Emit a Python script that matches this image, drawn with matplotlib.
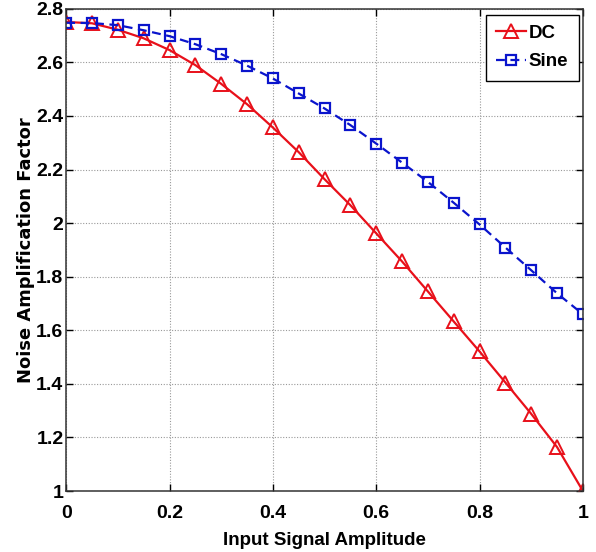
import matplotlib
matplotlib.use("Agg")
import matplotlib.pyplot as plt

amplitude = [0.0, 0.05, 0.10, 0.15, 0.20, 0.25, 0.30, 0.35, 0.40, 0.45, 0.50,
             0.55, 0.60, 0.65, 0.70, 0.75, 0.80, 0.85, 0.90, 0.95, 1.00]
dc_factor = [2.751, 2.746, 2.722, 2.690, 2.646, 2.590, 2.520, 2.444, 2.357, 2.265, 2.164,
             2.067, 1.962, 1.857, 1.745, 1.633, 1.521, 1.405, 1.288, 1.164, 1.000]
sine_factor = [2.748, 2.747, 2.739, 2.720, 2.698, 2.668, 2.631, 2.588, 2.540, 2.484, 2.428,
               2.366, 2.297, 2.226, 2.154, 2.076, 1.995, 1.909, 1.824, 1.738, 1.660]

xticks = [0, 0.2, 0.4, 0.6, 0.8, 1.0]
xtick_labels = ["0", "0.2", "0.4", "0.6", "0.8", "1"]
yticks = [1.0, 1.2, 1.4, 1.6, 1.8, 2.0, 2.2, 2.4, 2.6, 2.8]
ytick_labels = ["1", "1.2", "1.4", "1.6", "1.8", "2", "2.2", "2.4", "2.6", "2.8"]

plt.rcParams["font.family"] = ["Liberation Sans", "DejaVu Sans"]
plt.rcParams["font.weight"] = "bold"

fig = plt.figure(figsize=(5.96, 5.52), dpi=100)
ax = fig.add_axes([0.111, 0.1105, 0.867, 0.8735])

red = "#e8101a"
blue = "#0a14cc"
ax.plot(amplitude, dc_factor, color=red, lw=1.6, marker="^", ms=10,
        mfc="none", mec=red, mew=1.4, label="DC")
ax.plot(amplitude, sine_factor, color=blue, lw=1.6, ls=(0, (4, 2.5)), marker="s", ms=7,
        mfc="none", mec=blue, mew=1.6, label="Sine")

ax.set_xlim(0, 1)
ax.set_ylim(1, 2.8)
ax.set_xticks(xticks)
ax.set_xticklabels(xtick_labels)
ax.set_yticks(yticks)
ax.set_yticklabels(ytick_labels)
ax.tick_params(direction="in", top=True, right=True, length=5, width=1,
               labelsize=14)
ax.tick_params(axis="x", pad=10)
ax.tick_params(axis="y", pad=2)
ax.grid(True, color="#999999", ls=(0, (1, 1.5)), lw=0.8)
for s in ax.spines.values():
    s.set_linewidth(1.1)
    s.set_color("#333333")

ax.set_xlabel("Input Signal Amplitude", fontsize=13.5, fontweight="bold")
ax.xaxis.set_label_coords(0.5, -0.085)
ax.set_ylabel("Noise Amplification Factor", fontsize=12.9, fontweight="bold",
              family=["DejaVu Sans"])
ax.yaxis.set_label_coords(-0.06, 0.5)

leg = ax.legend(loc="upper right", bbox_to_anchor=(0.992, 0.988), fontsize=13.5,
                fancybox=False, framealpha=1, edgecolor="black", handlelength=1.6,
                handletextpad=0.15, borderpad=0.55, labelspacing=0.6, borderaxespad=0)
leg.get_frame().set_linewidth(1.0)

fig.savefig("out.png", dpi=100)
